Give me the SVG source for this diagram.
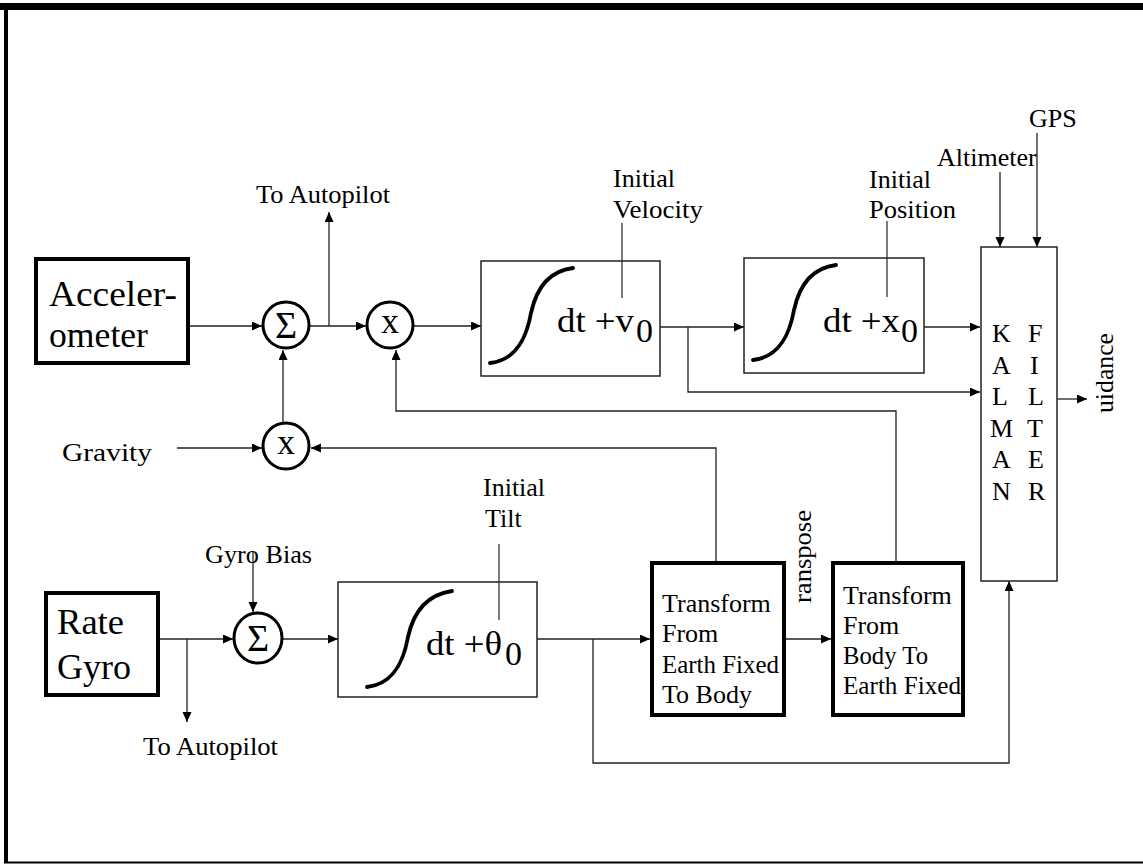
<svg xmlns="http://www.w3.org/2000/svg" width="1143" height="865" viewBox="0 0 1143 865">
<style>
text{font-family:"Liberation Serif","Times New Roman",serif;fill:#000}
.lbl{font-size:26px}
.big{font-size:36px}
.int{font-size:34px}
.sig{font-size:38px}
.mul{font-size:36px}
.box{fill:#fff;stroke:#000;stroke-width:4}
.thin{fill:#fff;stroke:#222;stroke-width:1.5}
.circ{fill:#fff;stroke:#000;stroke-width:3}
.curve{fill:none;stroke:#000;stroke-width:3.8;stroke-linecap:round}
.tick{fill:none;stroke:#333;stroke-width:1.3}
#connectors path{fill:none;stroke:#222;stroke-width:1.3}
.arr{marker-end:url(#ah)}
</style>
<defs>
<marker id="ah" markerUnits="userSpaceOnUse" markerWidth="11" markerHeight="10" refX="10" refY="4.5" orient="auto">
<path d="M0,0 L10,4.5 L0,9 z" fill="#000"/>
</marker>
</defs>
<rect width="1143" height="865" fill="#fff"/>
<g id="frame">
<rect x="0" y="3" width="1143" height="7" fill="#000"/>
<rect x="4" y="3" width="4" height="860" fill="#000"/>
<rect x="4" y="861.5" width="1139" height="2" fill="#000"/>
</g>
<g id="connectors">
<path class="arr" d="M190,326 H262"/>
<path class="arr" d="M310,326 H366"/>
<path class="arr" d="M329,326 V212"/>
<path class="arr" d="M414,326 H481"/>
<path class="arr" d="M660,327 H744"/>
<path class="arr" d="M924,327 H980"/>
<path class="arr" d="M688,327 V392 H980"/>
<path class="arr" d="M1037,133 V247"/>
<path class="arr" d="M1000,172 V247"/>
<path class="arr" d="M1057,399 H1087"/>
<path class="arr" d="M177,448 H262"/>
<path class="arr" d="M283,422 V350"/>
<path class="arr" d="M716,561 V448 H311"/>
<path class="arr" d="M896,561 V411 H396 V350"/>
<path class="arr" d="M160,639 H233"/>
<path class="arr" d="M187,639 V722"/>
<path class="arr" d="M253,551 V612"/>
<path class="arr" d="M283,639 H338"/>
<path class="arr" d="M537,639 H650"/>
<path class="arr" d="M593,639 V763 H1009 V581"/>
<path class="arr" d="M786,639 H831"/>
</g>
<g id="accelerometer">
<rect class="box" x="36" y="259" width="152" height="104"/>
<text class="big" x="49" y="306" textLength="128" lengthAdjust="spacingAndGlyphs">Acceler-</text>
<text class="big" x="49" y="347" textLength="99" lengthAdjust="spacingAndGlyphs">ometer</text>
</g>
<g id="sum1">
<circle class="circ" cx="286" cy="325" r="23"/>
<text class="sig" x="286" y="338" text-anchor="middle">Σ</text>
</g>
<g id="mult1">
<circle class="circ" cx="390" cy="325" r="23"/>
<text class="mul" x="390" y="333" text-anchor="middle">x</text>
</g>
<g id="autopilot-top">
<text class="lbl" x="256" y="203" textLength="134" lengthAdjust="spacingAndGlyphs">To Autopilot</text>
</g>
<g id="integrator1">
<rect class="thin" x="481" y="261" width="179" height="115"/>
<path class="curve" d="M490,363 C518,360 527,335 531,313 C536,290 548,271 573,268"/>
<text class="int" x="557" y="332" textLength="77" lengthAdjust="spacingAndGlyphs">dt +v</text>
<text class="int" x="636" y="342">0</text>
<path class="tick" d="M622,223 V298"/>
<text class="lbl" x="613" y="187">Initial</text>
<text class="lbl" x="613" y="218" textLength="90" lengthAdjust="spacingAndGlyphs">Velocity</text>
</g>
<g id="integrator2">
<rect class="thin" x="744" y="258" width="180" height="115"/>
<path class="curve" d="M753,360 C781,357 790,332 794,310 C799,287 811,268 836,265"/>
<text class="int" x="823" y="332" textLength="77" lengthAdjust="spacingAndGlyphs">dt +x</text>
<text class="int" x="901" y="342">0</text>
<path class="tick" d="M887,221 V297"/>
<text class="lbl" x="869" y="188">Initial</text>
<text class="lbl" x="869" y="218" textLength="87" lengthAdjust="spacingAndGlyphs">Position</text>
</g>
<g id="kalman">
<rect class="thin" x="981" y="247" width="76" height="334"/>
<g class="lbl">
<text x="992" y="342">K</text><text x="1028" y="342">F</text>
<text x="992" y="374">A</text><text x="1030" y="374">I</text>
<text x="992" y="405">L</text><text x="1028" y="405">L</text>
<text x="990" y="437">M</text><text x="1027" y="437">T</text>
<text x="992" y="468">A</text><text x="1028" y="468">E</text>
<text x="992" y="500">N</text><text x="1028" y="500">R</text>
</g>
</g>
<g id="gps"><text class="lbl" x="1029" y="127">GPS</text></g>
<g id="altimeter"><text class="lbl" x="937" y="166">Altimeter</text></g>
<g id="guidance"><text class="lbl" transform="translate(1113,413) rotate(-90)" textLength="80" lengthAdjust="spacingAndGlyphs">uidance</text></g>
<g id="gravity">
<text class="lbl" x="62" y="461" textLength="90" lengthAdjust="spacingAndGlyphs">Gravity</text>
</g>
<g id="mult2">
<circle class="circ" cx="286" cy="446" r="23"/>
<text class="mul" x="286" y="454" text-anchor="middle">x</text>
</g>
<g id="rate-gyro">
<rect class="box" x="46" y="593" width="112" height="102"/>
<text class="big" x="57" y="634" textLength="67" lengthAdjust="spacingAndGlyphs">Rate</text>
<text class="big" x="57" y="679">Gyro</text>
</g>
<g id="gyro-bias"><text class="lbl" x="205" y="563" textLength="107" lengthAdjust="spacingAndGlyphs">Gyro Bias</text></g>
<g id="sum2">
<ellipse class="circ" cx="258" cy="638" rx="24" ry="25"/>
<text class="sig" x="258" y="651" text-anchor="middle">Σ</text>
</g>
<g id="autopilot-bottom">
<text class="lbl" x="143" y="755" textLength="135" lengthAdjust="spacingAndGlyphs">To Autopilot</text>
</g>
<g id="integrator3">
<rect class="thin" x="338" y="582" width="199" height="115"/>
<path class="curve" d="M367,687 C395,684 404,659 408,637 C413,614 425,595 452,591"/>
<text class="int" x="426" y="655" textLength="76" lengthAdjust="spacingAndGlyphs">dt +θ</text>
<text class="int" x="505" y="665">0</text>
<path class="tick" d="M499,544 V620"/>
<text class="lbl" x="483" y="496">Initial</text>
<text class="lbl" x="485" y="527">Tilt</text>
</g>
<g id="transform1">
<rect class="box" x="652" y="563" width="132" height="152"/>
<g class="lbl">
<text x="662" y="612">Transform</text>
<text x="662" y="642">From</text>
<text x="662" y="673" textLength="117" lengthAdjust="spacingAndGlyphs">Earth Fixed</text>
<text x="662" y="703">To Body</text>
</g>
</g>
<g id="transpose"><text class="lbl" transform="translate(811,603) rotate(-90)" textLength="93" lengthAdjust="spacingAndGlyphs">ranspose</text></g>
<g id="transform2">
<rect class="box" x="833" y="563" width="130" height="152"/>
<g class="lbl">
<text x="843" y="604">Transform</text>
<text x="843" y="634">From</text>
<text x="843" y="664" textLength="85" lengthAdjust="spacingAndGlyphs">Body To</text>
<text x="843" y="694" textLength="118" lengthAdjust="spacingAndGlyphs">Earth Fixed</text>
</g>
</g>
</svg>
